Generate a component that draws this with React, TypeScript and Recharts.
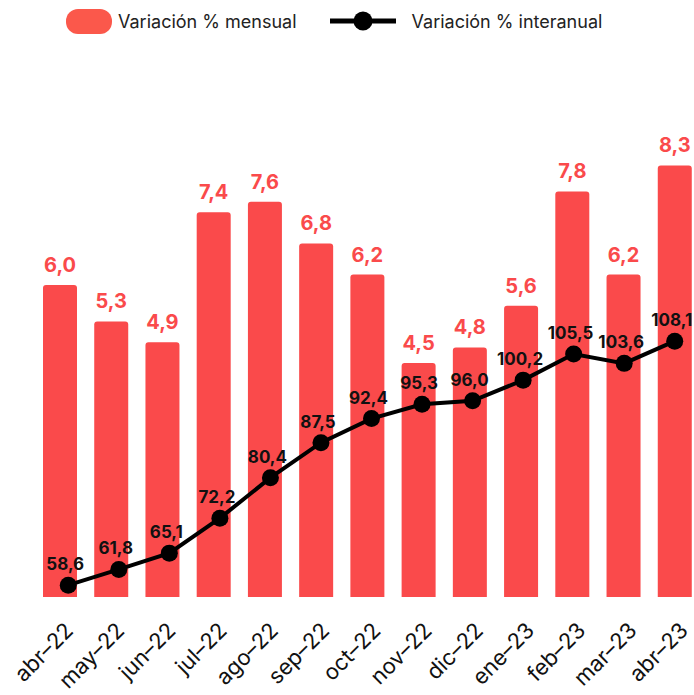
import React from "react";
import { ComposedChart, Bar, Line, XAxis, YAxis, LabelList } from "recharts";

const months = ["abr–22", "may–22", "jun–22", "jul–22", "ago–22", "sep–22", "oct–22", "nov–22", "dic–22", "ene–23", "feb–23", "mar–23", "abr–23"];
const mensual = [6.0, 5.3, 4.9, 7.4, 7.6, 6.8, 6.2, 4.5, 4.8, 5.6, 7.8, 6.2, 8.3];
const interanual = [58.6, 61.8, 65.1, 72.2, 80.4, 87.5, 92.4, 95.3, 96.0, 100.2, 105.5, 103.6, 108.1];

const RED = "#fa4a4b";
const FONT = "Inter, 'Open Sans', sans-serif";

const data = months.map((m, i) => ({ mes: m, mensual: mensual[i], interanual: interanual[i] }));

const fmt = (v: number) => v.toFixed(1).replace(".", ",");

const MonthTick = (props: any) => {
  const { x, y, payload } = props;
  return (
    <g transform={`translate(${x + 15},${y + 27}) rotate(-45)`}>
      <text x={0} y={0} textAnchor="end" fontSize={22} fill="#111" fontFamily={FONT}>
        {payload.value}
      </text>
    </g>
  );
};

const BarLabel = (props: any) => {
  const { x, y, width, value } = props;
  return (
    <text x={x + width / 2} y={y - 13} textAnchor="middle" fontSize={20} fontWeight={700} fill={RED} fontFamily={FONT}>
      {fmt(value)}
    </text>
  );
};

const LineLabel = (props: any) => {
  const { x, y, value } = props;
  return (
    <text x={x - 3} y={y - 15} textAnchor="middle" fontSize={17} fontWeight={700} fill="#111" fontFamily={FONT}>
      {fmt(value)}
    </text>
  );
};

export default function App() {
  return (
    <div style={{ position: "absolute", left: 0, top: 0, width: 694, height: 695, overflow: "hidden", background: "#fff", fontFamily: FONT }}>
      <div style={{ position: "absolute", top: 8, left: 66, height: 26, display: "flex", alignItems: "center", fontSize: 18, color: "#222" }}>
        <span style={{ display: "inline-block", width: 46, height: 25, borderRadius: 12, background: "#fb584b", marginRight: 6 }} />
        <span>Variación % mensual</span>
        <svg width={66} height={26} style={{ marginLeft: 33, marginRight: 16 }}>
          <line x1={0} y1={13} x2={66} y2={13} stroke="#000" strokeWidth={5} />
          <circle cx={33} cy={13} r={9.5} fill="#000" />
        </svg>
        <span>Variación % interanual</span>
      </div>
      <ComposedChart width={702} height={695} data={data} margin={{ top: 77, right: 2, left: 34, bottom: 0 }}>
        <XAxis xAxisId="b" dataKey="mes" axisLine={false} tickLine={false} interval={0} height={98} tick={<MonthTick />} />
        <XAxis xAxisId="l" dataKey="mes" hide padding={{ left: 9, right: 0 }} />
        <YAxis yAxisId="b" domain={[0, 10]} hide />
        <YAxis yAxisId="l" domain={[56.2, 161.7]} hide />
        <Bar xAxisId="b" yAxisId="b" dataKey="mensual" fill={RED} barSize={34} radius={[3, 3, 0, 0]} isAnimationActive={false}>
          <LabelList dataKey="mensual" content={<BarLabel />} />
        </Bar>
        <Line
          xAxisId="l"
          yAxisId="l"
          dataKey="interanual"
          stroke="#000"
          strokeWidth={4}
          dot={{ r: 8.5, fill: "#000", stroke: "#000", strokeWidth: 0 }}
          activeDot={false}
          isAnimationActive={false}
        >
          <LabelList dataKey="interanual" content={<LineLabel />} />
        </Line>
      </ComposedChart>
    </div>
  );
}
